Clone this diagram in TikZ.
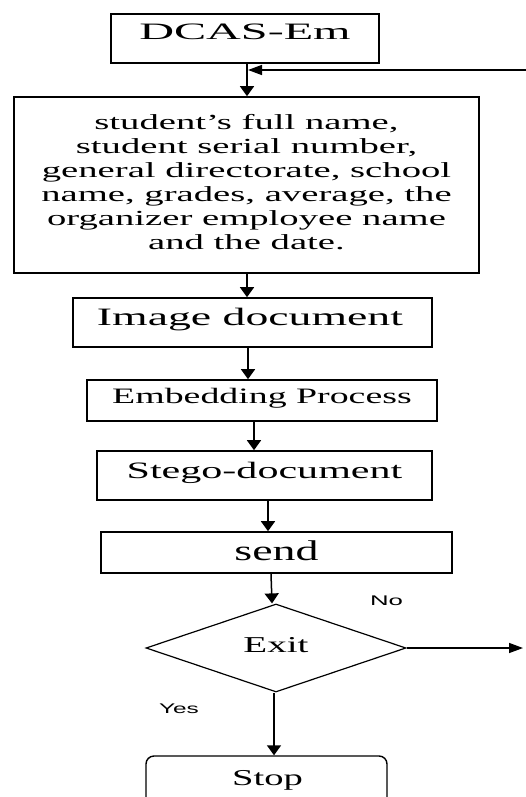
\documentclass[tikz,border=0pt]{standalone}
\usepackage{fontspec}
\usepackage{graphicx}
\setmainfont{Liberation Serif}
\newfontfamily\lblfont{Liberation Sans}
\usetikzlibrary{shapes.geometric,arrows.meta}
% \bt{xstretch}{size}{raise}{text}
\newcommand{\bt}[4]{\raisebox{#3}{\scalebox{#1}[1]{\fontsize{#2}{#2}\selectfont #4}}}
\tikzset{
  plainbox/.style={draw, rectangle, inner sep=0pt, line width=1.6pt},
  fbox/.style={plainbox, text height=0pt, text depth=0pt},
  decide/.style={draw, diamond, inner sep=0pt, line width=1.2pt, text height=0pt, text depth=0pt},
  stopbox/.style={draw, rectangle, rounded corners=8pt, inner sep=0pt, line width=1.4pt, text height=0pt, text depth=0pt},
  varr/.style={line width=1.5pt, -{Triangle[width=14pt,length=10pt]}},
  harr/.style={line width=1.4pt, -{Triangle[width=10pt,length=14pt]}},
  yn/.style={anchor=base, inner sep=0pt}
}
\begin{document}
\begin{tikzpicture}[x=1pt,y=-1pt]
\useasboundingbox (0,0) rectangle (526,797);
\clip (0,0) rectangle (526,797);
\fill[white] (0,0) rectangle (526,797);

\node[fbox, minimum width=268pt, minimum height=49pt] (dcas) at (245,38.5)
  {\bt{2.05}{23.5}{-1.5pt}{DCAS-Em}};
\node[plainbox, minimum width=465pt, minimum height=176pt] (info) at (246.5,185)
  {\scalebox{1.8}[1]{\fontsize{21.5}{24}\selectfont\begin{tabular}{@{}c@{}}student’s full name,\\ student serial number,\\ general directorate, school\\ name, grades, average, the\\ organizer employee name\\ and the date.\end{tabular}}};
\node[fbox, minimum width=359pt, minimum height=49pt] (image) at (252.5,322.5)
  {\kern-5pt\bt{1.83}{25}{-2.5pt}{Image document}};
\node[fbox, minimum width=350pt, minimum height=41pt] (embed) at (262,400.5)
  {\bt{1.72}{22}{-2.5pt}{Embedding Process}};
\node[fbox, minimum width=335pt, minimum height=49pt] (stego) at (264.5,475.5)
  {\bt{1.79}{23.5}{-2.5pt}{Stego-document}};
\node[fbox, minimum width=351pt, minimum height=41pt] (send) at (276.5,552.5)
  {\bt{1.61}{28.5}{-7.5pt}{send}};
\node[decide, minimum width=260pt, minimum height=88pt] (exit) at (276,648)
  {\bt{1.72}{22.7}{-4pt}{Exit}};
\node[stopbox, minimum width=241pt, minimum height=60pt] (stop) at (266.5,786)
  {\kern2pt\bt{1.7}{22.7}{1pt}{Stop}};

\node[yn] (no) at (386.5,605) {\scalebox{1.84}[1]{\lblfont\fontsize{14}{14}\selectfont No}};
\node[yn] (yes) at (179,713) {\scalebox{1.74}[1]{\lblfont\fontsize{14}{14}\selectfont Yes}};

\coordinate (fbR) at (526,70);
\coordinate (fbL) at (248,70);
\coordinate (noEnd) at (523,648);

\draw[varr] ([xshift=2pt]dcas.south) -- ([xshift=0.5pt]info.north);
\draw[harr] (fbR) -- (fbL);
\draw[varr] ([xshift=0.5pt]info.south) -- ([xshift=-5.5pt]image.north);
\draw[varr] ([xshift=-4.5pt]image.south) -- ([xshift=-14pt]embed.north);
\draw[varr] ([xshift=-8pt]embed.south) -- ([xshift=-10.5pt]stego.north);
\draw[varr] ([xshift=3.5pt]stego.south) -- ([xshift=-8.5pt]send.north);
\draw[varr] ([xshift=-5.5pt]send.south) -- ([xshift=-4pt]exit.north);
\draw[varr] ([xshift=-2pt]exit.south) -- ([xshift=7.5pt]stop.north);
\draw[harr] (exit.east) -- (noEnd);
\end{tikzpicture}
\end{document}
